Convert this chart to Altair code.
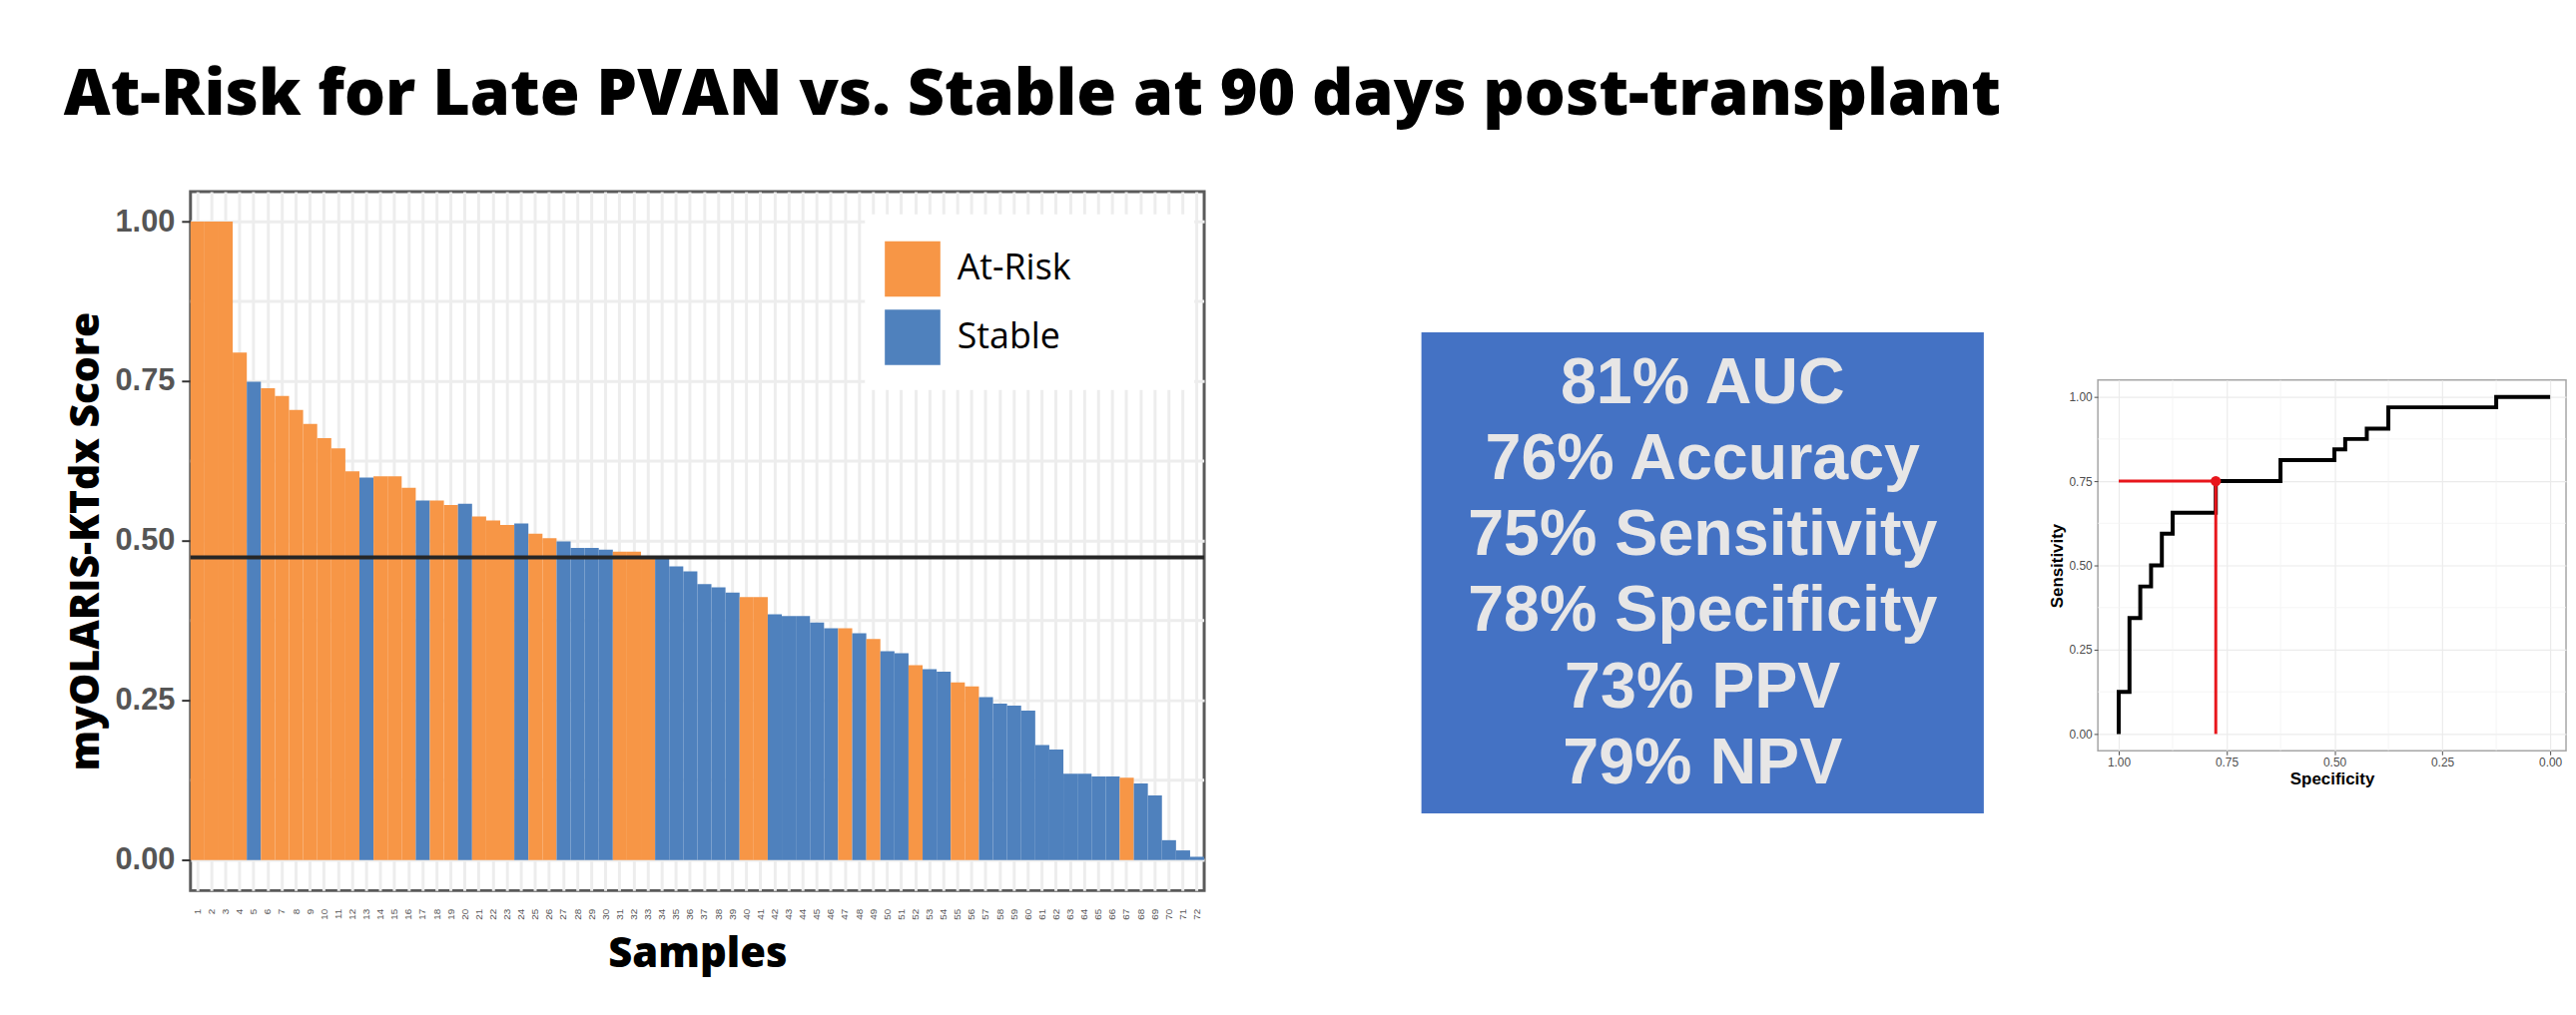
import altair as alt
import pandas as pd

# ---------------- data ----------------
title_text = "At-Risk for Late PVAN vs. Stable at 90 days post-transplant"

# sorted myOLARIS-KTdx scores, one per sample (left to right)
scores = [1.00, 1.00, 1.00, 0.795, 0.749, 0.739, 0.727, 0.705, 0.683, 0.661, 0.645, 0.609,
          0.599, 0.601, 0.601, 0.583, 0.563, 0.563, 0.556, 0.558, 0.538, 0.532, 0.525, 0.527,
          0.511, 0.504, 0.499, 0.489, 0.489, 0.486, 0.483, 0.483, 0.476, 0.473, 0.460, 0.452,
          0.432, 0.427, 0.419, 0.412, 0.412, 0.385, 0.382, 0.382, 0.372, 0.363, 0.363, 0.355,
          0.346, 0.327, 0.324, 0.305, 0.299, 0.295, 0.278, 0.272, 0.255, 0.245, 0.242, 0.234,
          0.180, 0.173, 0.135, 0.135, 0.131, 0.131, 0.129, 0.120, 0.101, 0.031, 0.015, 0.005]
# O = At-Risk, B = Stable
group_codes = ("OOOOBOOOOOOO" "BOOOBOOBOOOB" "OOBBBBOOOBBB"
               "BBBOOBBBBBOB" "OBBOBBOOBBBB" "BBBBBBOBBBBB")
group_names = {"O": "At-Risk", "B": "Stable"}
groups_domain = ["At-Risk", "Stable"]
groups_colors = ["#F79646", "#4F81BD"]
sample_ids = [str(i) for i in range(1, len(scores) + 1)]
threshold = [0.474]
y_ticks = [0.0, 0.25, 0.50, 0.75, 1.00]
y_minor = [0.125, 0.375, 0.625, 0.875]

# performance metrics
metric_pct = [81, 76, 75, 78, 73, 79]
metric_name = ["AUC", "Accuracy", "Sensitivity", "Specificity", "PPV", "NPV"]

# ROC curve corner points (specificity, sensitivity)
roc_spec = [1.000, 1.000, 0.975, 0.950, 0.925, 0.900, 0.875, 0.775, 0.625, 0.500, 0.475, 0.425, 0.375, 0.125, 0.000]
roc_sens = [0.000, 0.125, 0.344, 0.4375, 0.500, 0.594, 0.656, 0.750, 0.8125, 0.844, 0.875, 0.906, 0.969, 1.000, 1.000]
cut_spec = [0.775]
cut_sens = [0.75]
roc_ticks = [0.0, 0.25, 0.50, 0.75, 1.00]
roc_minor = [0.125, 0.375, 0.625, 0.875]

# ---------------- bar chart ----------------
BW, BH = 1022, 705
bar_df = pd.DataFrame({
    "sample": sample_ids,
    "score": scores,
    "group": [group_names[c] for c in group_codes],
})
y_scale = alt.Scale(domain=[-0.048, 1.047], nice=False, zero=False)

bars = alt.Chart(bar_df).mark_bar(opacity=1).encode(
    x=alt.X("sample:N", sort=None,
            scale=alt.Scale(paddingInner=0, paddingOuter=0),
            axis=alt.Axis(title="Samples", labelAngle=270, labelFont="Liberation Sans",
                          labelFontSize=10, labelColor="#555", ticks=False, labelPadding=18,
                          grid=True, gridColor="#EDEDED", gridWidth=3, domain=False,
                          titleFont="Open Sans", titleFontSize=42, titleFontWeight=800,
                          titleColor="black", titlePadding=15)),
    y=alt.Y("score:Q", scale=y_scale,
            axis=alt.Axis(title="myOLARIS-KTdx Score", values=y_ticks, format=".2f",
                          labelFont="Liberation Sans", labelFontSize=31, labelFontWeight="bold",
                          labelColor="#555555", tickSize=9, tickColor="#333333", tickWidth=2,
                          labelPadding=7, grid=True, gridColor="#EDEDED", gridWidth=3,
                          domain=False, titleFont="Open Sans", titleFontSize=41,
                          titleFontWeight=800, titleColor="black", titlePadding=8)),
    color=alt.Color("group:N", scale=alt.Scale(domain=groups_domain, range=groups_colors),
                    legend=alt.Legend(title=None, orient="none", legendX=700, legendY=50,
                                      symbolType="square", symbolSize=3136, symbolStrokeWidth=0,
                                      symbolOpacity=1, labelFont="Open Sans", labelFontSize=36,
                                      labelColor="black", labelOffset=17, rowPadding=13,
                                      padding=0)),
)

minor_grid = alt.Chart(pd.DataFrame({"m": y_minor})).mark_rule(
    color="#EDEDED", strokeWidth=3).encode(y=alt.Y("m:Q", scale=y_scale))

thr_rule = alt.Chart(pd.DataFrame({"t": threshold})).mark_rule(
    color="#262626", strokeWidth=4).encode(y=alt.Y("t:Q", scale=y_scale))

legend_bg = alt.Chart(pd.DataFrame({"k": [0]})).mark_rect(color="white").encode(
    x=alt.value(680), x2=alt.value(1012), y=alt.value(23), y2=alt.value(200))

bar_chart = alt.layer(minor_grid, bars, thr_rule, legend_bg).properties(
    width=BW, height=BH,
    view=alt.ViewBackground(fill="white", stroke="#5a5a5a", strokeWidth=3))

# ---------------- metrics box ----------------
MW, MH = 567, 485
box_df = pd.DataFrame({
    "line": list(range(len(metric_pct))),
    "label": [f"{p}% {n}" for p, n in zip(metric_pct, metric_name)],
})
box = alt.Chart(box_df).mark_text(
    font="Liberation Sans", fontSize=65, fontWeight="bold", color="#E7E6E6",
    baseline="alphabetic", align="center").encode(
    x=alt.value(MW / 2),
    y=alt.Y("line:Q", scale=alt.Scale(domain=[-0.924, 5.391], reverse=True, nice=False, zero=False),
            axis=None),
    text="label:N",
).properties(width=MW, height=MH,
             view=alt.ViewBackground(fill="#4472C4", stroke="#4472C4", strokeWidth=0))

# ---------------- ROC ----------------
RW, RH = 472, 374
roc_df = pd.DataFrame({"spec": roc_spec, "sens": roc_sens, "ord": list(range(len(roc_spec)))})
xs = alt.Scale(domain=[-0.0368, 1.0483], reverse=True, nice=False, zero=False)
ys = alt.Scale(domain=[-0.05, 1.05], nice=False, zero=False)

roc_axis_common = dict(values=roc_ticks, format=".2f", labelFont="Liberation Sans",
                       labelFontSize=12, labelColor="#4D4D4D", tickColor="#4D4D4D",
                       tickSize=4, labelPadding=2, grid=True, gridColor="#EBEBEB",
                       gridWidth=1.2, domain=False, titleFont="Liberation Sans",
                       titleFontSize=17, titleFontWeight="bold", titleColor="black",
                       titlePadding=3)

roc_minor_x = alt.Chart(pd.DataFrame({"m": roc_minor})).mark_rule(
    color="#F2F2F2", strokeWidth=0.8).encode(x=alt.X("m:Q", scale=xs))
roc_minor_y = alt.Chart(pd.DataFrame({"m": roc_minor})).mark_rule(
    color="#F2F2F2", strokeWidth=0.8).encode(y=alt.Y("m:Q", scale=ys))

roc_line = alt.Chart(roc_df).mark_line(interpolate="step-after", color="black", strokeWidth=4).encode(
    x=alt.X("spec:Q", scale=xs, axis=alt.Axis(title="Specificity", **roc_axis_common)),
    y=alt.Y("sens:Q", scale=ys, axis=alt.Axis(title="Sensitivity", **roc_axis_common)),
    order="ord:Q",
)

red_df = pd.DataFrame({
    "x": [1.0, cut_spec[0]], "x2": [cut_spec[0], cut_spec[0]],
    "y": [cut_sens[0], 0.0], "y2": [cut_sens[0], cut_sens[0]],
})
red_lines = alt.Chart(red_df).mark_rule(color="#E8161C", strokeWidth=3).encode(
    x=alt.X("x:Q", scale=xs), x2="x2:Q", y=alt.Y("y:Q", scale=ys), y2="y2:Q")
red_pt = alt.Chart(pd.DataFrame({"s": cut_spec, "v": cut_sens})).mark_point(
    filled=True, color="#E8161C", size=110, opacity=1).encode(
    x=alt.X("s:Q", scale=xs), y=alt.Y("v:Q", scale=ys))

roc = alt.layer(roc_minor_x, roc_minor_y, roc_line, red_lines, red_pt).properties(
    width=RW, height=RH,
    view=alt.ViewBackground(fill="white", stroke="#A6A6A6", strokeWidth=1.5))


def spacer(w, h):
    return alt.Chart(pd.DataFrame({"v": [0]})).mark_point(opacity=0).properties(
        width=w, height=h, view=alt.ViewBackground(stroke="transparent", fill="transparent"))


right = alt.hconcat(
    alt.vconcat(spacer(MW, 141), box, spacing=0),
    alt.vconcat(spacer(RW, 187), roc, spacing=0),
    spacing=62,
)

chart = alt.hconcat(bar_chart, right, spacing=214).properties(
    title=alt.TitleParams(text=title_text, anchor="start", font="Open Sans", fontSize=65,
                          fontWeight=800, color="black", offset=62, dx=0),
    padding={"left": 56, "top": 52, "right": 0, "bottom": 0},
).resolve_scale(color="independent").resolve_legend(color="independent").configure(
    background="white"
).configure_view(stroke="transparent")

chart.save("out.html", embed_options={"renderer": "svg", "actions": False})
